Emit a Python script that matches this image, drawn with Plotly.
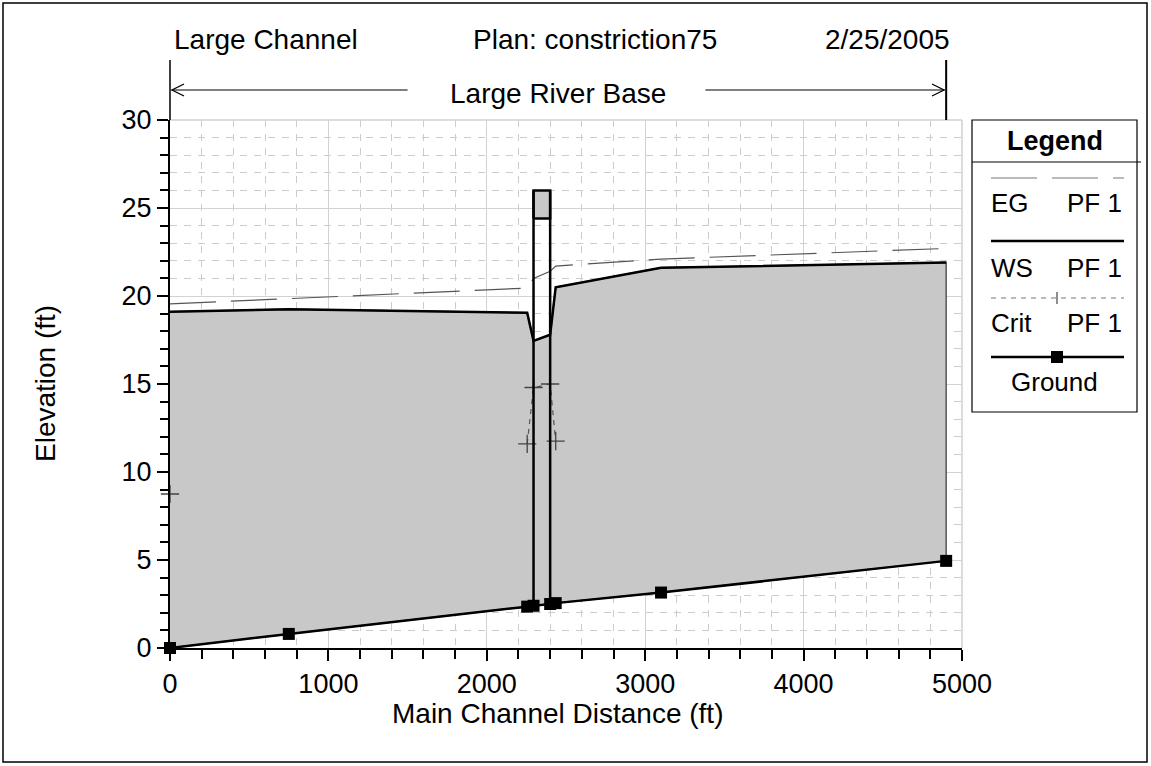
import plotly.graph_objects as go

# ---- data ----
stations = [0, 750, 2255, 2295, 2400, 2435, 3100, 4900]
ground = [0.0, 0.8, 2.35, 2.4, 2.5, 2.55, 3.15, 4.95]
ws_pf1 = [19.1, 19.25, 19.05, 17.45, 17.8, 20.5, 21.6, 21.9]
eg_pf1 = [19.55, 19.85, 20.45, 21.0, 21.4, 21.7, 22.1, 22.7]
crit_pf1 = [8.75, None, 11.6, 14.8, 15.0, 11.75, None, None]
bridge_faces = [2295, 2400]
bridge_ground = [2.4, 2.5]
deck_low = 24.4
deck_high = 26.0

title_parts = ["Large Channel", "Plan: constriction75", "2/25/2005"]
reach_name = "Large River Base"
legend_labels = ["EG", "WS", "Crit"]
legend_profile = "PF 1"
legend_ground = "Ground"
x_title = "Main Channel Distance (ft)"
y_title = "Elevation (ft)"

FONT = "Liberation Sans, Arial, sans-serif"
W, H = 1151, 766
L, R, T, B = 170, 962, 120, 648


def px(x):
    return (x - L) / (R - L)


def py(y):
    return (B - y) / (B - T)


fig = go.Figure()

# water fill polygon
fig.add_trace(go.Scatter(
    x=stations + stations[::-1], y=ground + ws_pf1[::-1],
    fill="toself", fillcolor="#c8c8c8", mode="lines",
    line=dict(color="#555555", width=1.5), hoverinfo="skip", showlegend=False))

# EG
fig.add_trace(go.Scatter(x=stations, y=eg_pf1, mode="lines",
                         line=dict(color="#555555", width=1.2, dash="46px,15px"),
                         showlegend=False))
# Crit
fig.add_trace(go.Scatter(x=stations, y=crit_pf1, mode="lines+markers",
                         line=dict(color="#555555", width=1.2, dash="5px,5px"),
                         marker=dict(symbol="cross-thin", size=13,
                                     line=dict(color="#444444", width=1.3)),
                         connectgaps=False, cliponaxis=False, showlegend=False))
# WS
fig.add_trace(go.Scatter(x=stations, y=ws_pf1, mode="lines",
                         line=dict(color="black", width=2.5), showlegend=False))

# bridge deck
bx0, bx1 = bridge_faces
fig.add_trace(go.Scatter(x=[bx0, bx1, bx1, bx0, bx0],
                         y=[deck_low, deck_low, deck_high, deck_high, deck_low],
                         fill="toself", fillcolor="#c8c8c8", mode="lines",
                         line=dict(color="black", width=2.5), showlegend=False))
for bx, bg in zip(bridge_faces, bridge_ground):
    fig.add_trace(go.Scatter(x=[bx, bx], y=[bg, deck_high], mode="lines",
                             line=dict(color="black", width=2.5), showlegend=False))

# Ground
fig.add_trace(go.Scatter(x=stations, y=ground, mode="lines+markers",
                         line=dict(color="black", width=2.5),
                         marker=dict(symbol="square", size=12, color="black"),
                         cliponaxis=False, showlegend=False))

shapes = []
annotations = []


def txt(x, y, text, size, anchor="center", angle=0, xref="paper"):
    annotations.append(dict(x=x, xref=xref, y=y, yref="paper", text=text,
                            showarrow=False, xanchor=anchor, yanchor="middle",
                            textangle=angle,
                            font=dict(family=FONT, size=size, color="black")))


# outer border
shapes.append(dict(type="rect", xref="paper", yref="paper",
                   x0=px(3), x1=px(1147), y0=py(762), y1=py(3),
                   line=dict(color="black", width=1.5)))
# light right/top borders of plot
shapes.append(dict(type="line", xref="paper", yref="paper", x0=1, x1=1, y0=0, y1=1,
                   line=dict(color="#d0d0d0", width=1.5)))
shapes.append(dict(type="line", xref="paper", yref="paper", x0=0, x1=1, y0=1, y1=1,
                   line=dict(color="#d0d0d0", width=1.5)))
# reach header
shapes.append(dict(type="line", xref="paper", yref="paper", x0=0, x1=0,
                   y0=1, y1=py(60), line=dict(color="black", width=1.5)))
shapes.append(dict(type="line", xref="x", yref="paper", x0=stations[-1], x1=stations[-1],
                   y0=1, y1=py(60), line=dict(color="black", width=2)))
mid = (stations[0] + stations[-1]) / 2
shapes.append(dict(type="line", xref="x", yref="paper", x0=stations[0] + 10, x1=1500,
                   y0=py(90), y1=py(90), line=dict(color="#555555", width=1.5)))
shapes.append(dict(type="line", xref="x", yref="paper", x0=3380, x1=stations[-1] - 10,
                   y0=py(90), y1=py(90), line=dict(color="#555555", width=1.5)))
shapes.append(dict(type="path", xref="paper", yref="paper",
                   path=f"M {px(184)},{py(84)} L {px(172)},{py(90)} L {px(184)},{py(96)}",
                   line=dict(color="black", width=1.3)))
shapes.append(dict(type="path", xref="paper", yref="paper",
                   path=f"M {px(932)},{py(84)} L {px(944)},{py(90)} L {px(932)},{py(96)}",
                   line=dict(color="black", width=1.3)))
txt(mid, py(94), reach_name, 28, xref="x")

# title parts
for t, xp, anchor in zip(title_parts, [172, 471, 952], ["left", "left", "right"]):
    txt(px(xp), py(40), t, 28, anchor=anchor)

# axis titles
txt(px(557), py(713), x_title, 28)
txt(px(45), py(384), y_title, 28, angle=-90)

# legend box
lx0, lx1 = 972, 1137
lc = (lx0 + lx1) / 2
shapes.append(dict(type="rect", xref="paper", yref="paper",
                   x0=px(lx0), x1=px(lx1), y0=py(412), y1=py(120),
                   line=dict(color="black", width=1.2)))
shapes.append(dict(type="line", xref="paper", yref="paper",
                   x0=px(lx0), x1=px(1141), y0=py(162), y1=py(162),
                   line=dict(color="black", width=1.2)))
txt(px(lc), py(141), "<b>Legend</b>", 27)
sx0, sx1 = 991, 1124
shapes.append(dict(type="line", xref="paper", yref="paper", x0=px(sx0), x1=px(sx1),
                   y0=py(178), y1=py(178),
                   line=dict(color="#777777", width=1.2, dash="46px,15px")))
shapes.append(dict(type="line", xref="paper", yref="paper", x0=px(sx0), x1=px(sx1),
                   y0=py(241), y1=py(241), line=dict(color="black", width=2.5)))
shapes.append(dict(type="line", xref="paper", yref="paper", x0=px(sx0), x1=px(sx1),
                   y0=py(298), y1=py(298),
                   line=dict(color="#777777", width=1.2, dash="5px,5px")))
shapes.append(dict(type="line", xref="paper", yref="paper", x0=px(1057), x1=px(1057),
                   y0=py(292), y1=py(304), line=dict(color="#444444", width=1.2)))
shapes.append(dict(type="line", xref="paper", yref="paper", x0=px(sx0), x1=px(sx1),
                   y0=py(357), y1=py(357), line=dict(color="black", width=2.5)))
shapes.append(dict(type="rect", xref="paper", yref="paper", x0=px(1051), x1=px(1063),
                   y0=py(363), y1=py(351), fillcolor="black", line=dict(width=0)))
for lab, yp in zip(legend_labels, [203, 268, 323]):
    txt(px(989), py(yp), lab, 26, anchor="left")
    txt(px(1124), py(yp), legend_profile, 26, anchor="right")
txt(px(lc), py(382), legend_ground, 26)

axis_common = dict(
    showline=True, linecolor="black", linewidth=2, mirror=False,
    ticks="outside", ticklen=11, tickwidth=1.5, tickcolor="black",
    showgrid=True, gridcolor="#d2d2d2", gridwidth=1.3, zeroline=False,
    tickfont=dict(family=FONT, size=27, color="black"),
)

fig.update_layout(
    width=W, height=H,
    margin=dict(l=L, r=W - R, t=T, b=H - B),
    paper_bgcolor="white", plot_bgcolor="white",
    shapes=shapes, annotations=annotations, showlegend=False,
    xaxis=dict(range=[0, 5000], dtick=1000, tick0=0,
               minor=dict(dtick=200, ticks="outside", ticklen=9, tickcolor="black",
                          showgrid=True, gridcolor="#cccccc", griddash="7px,7px"),
               **axis_common),
    yaxis=dict(range=[0, 30], dtick=5, tick0=0,
               minor=dict(dtick=1, ticks="outside", ticklen=8, tickcolor="black",
                          showgrid=True, gridcolor="#cccccc", griddash="7px,7px"),
               **axis_common),
)

fig.write_html("out.html")
